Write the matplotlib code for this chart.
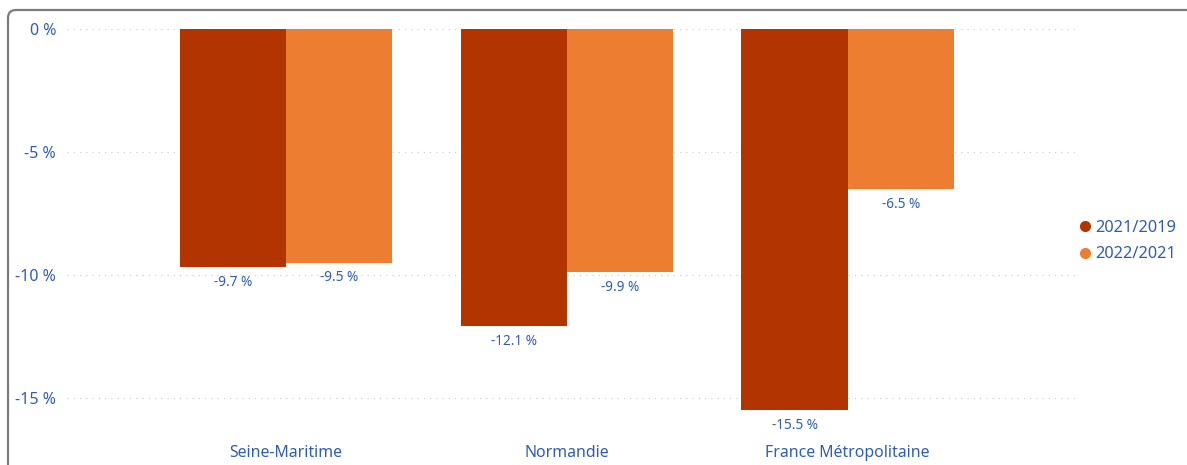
import matplotlib
matplotlib.use("Agg")
import matplotlib.pyplot as plt
from matplotlib.patches import FancyBboxPatch
import numpy as np

categories = ["Seine-Maritime", "Normandie", "France Métropolitaine"]
series_names = ["2021/2019", "2022/2021"]
values_2021_2019 = [-9.7, -12.1, -15.5]
values_2022_2021 = [-9.5, -9.9, -6.5]
yticks = [0, -5, -10, -15]
ytick_labels = ["0 %", "-5 %", "-10 %", "-15 %"]

dark = "#B23400"
orange = "#ED7D31"
blue = "#2E5CB8"

plt.rcParams['font.family'] = ['Noto Sans', 'DejaVu Sans']

fig = plt.figure(figsize=(11.87, 4.65), dpi=100)
ax = fig.add_axes([67/1187, 1-442/465, (1075-67)/1187, (442-29)/465])

x = np.arange(len(categories))
w = 0.378
b1 = ax.bar(x - w/2, values_2021_2019, w, color=dark, label=series_names[0], zorder=3)
b2 = ax.bar(x + w/2, values_2022_2021, w, color=orange, label=series_names[1], zorder=3)

for bars, vals in ((b1, values_2021_2019), (b2, values_2022_2021)):
    for rect, v in zip(bars, vals):
        ax.annotate(f"{v:.1f} %", (rect.get_x() + rect.get_width()/2, v),
                    xytext=(0, -11), textcoords="offset points",
                    ha="center", va="center", fontsize=9.8, color=blue)

ax.set_xlim(-0.78, 2.81)
ax.set_ylim(-16.8, 0)
ax.set_yticks(yticks)
ax.set_yticklabels(ytick_labels)
ax.set_xticks(x)
ax.set_xticklabels(categories)
ax.tick_params(axis='y', length=0, pad=8, labelsize=11.5, labelcolor=blue)
ax.tick_params(axis='x', length=0, pad=2.5, labelsize=11.4, labelcolor=blue)
ax.yaxis.grid(True, linestyle=(0, (1, 4)), color="#d0d0d0", linewidth=0.9, zorder=0)
for s in ax.spines.values():
    s.set_visible(False)

handles = [plt.Line2D([], [], marker='o', linestyle='', color=c, markersize=7) for c in (dark, orange)]
fig.legend(handles, series_names, loc='center left', bbox_to_anchor=(1062/1187, 1-241/465),
           frameon=False, fontsize=11.8, labelcolor=blue, handletextpad=0.1, labelspacing=0.65,
           handlelength=1.0)

frame = FancyBboxPatch((0.08, -0.5), 12.5, 5.05, boxstyle="round,pad=0,rounding_size=0.08",
                       transform=fig.dpi_scale_trans, fill=False, edgecolor="#7a7a7a", linewidth=1.6)
fig.patches.append(frame)

fig.savefig("out.png", dpi=100)
